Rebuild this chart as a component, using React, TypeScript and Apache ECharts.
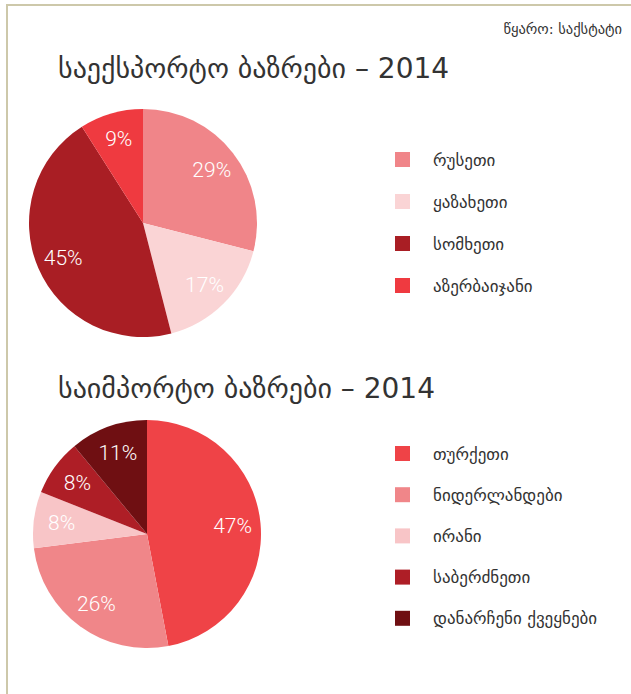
import React, { useEffect, useRef } from "react";
import * as echarts from "echarts";

const sourceText = "წყარო: საქსტატი";
const exportTitle = "საექსპორტო ბაზრები – 2014";
const importTitle = "საიმპორტო ბაზრები – 2014";

const exportNames = ["რუსეთი", "ყაზახეთი", "სომხეთი", "აზერბაიჯანი"];
const exportValues = [29, 17, 45, 9];
const exportColors = ["#f08589", "#fad4d5", "#a91e24", "#ef3a40"];

const importNames = ["თურქეთი", "ნიდერლანდები", "ირანი", "საბერძნეთი", "დანარჩენი ქვეყნები"];
const importValues = [47, 26, 8, 8, 11];
const importColors = ["#ef4347", "#f08689", "#f8c5c7", "#ae1e26", "#6f0f12"];

const FONT = "'DejaVu Sans', 'Noto Sans', sans-serif";

function buildData(names: string[], values: number[], colors: string[]) {
  return names.map((n, i) => ({ name: n, value: values[i], itemStyle: { color: colors[i] } }));
}

function buildLabelData(names: string[], values: number[]) {
  return names.map((n, i) => ({ name: n, value: values[i] }));
}

export default function App() {
  const ref = useRef<HTMLDivElement>(null);
  useEffect(() => {
    if (!ref.current) return;
    const chart = echarts.init(ref.current, undefined, { renderer: "svg" });
    const pieBase = {
      type: "pie",
      startAngle: 90,
      clockwise: true,
      silent: true,
      avoidLabelOverlap: false,
      labelLine: { show: false },
      emphasis: { disabled: true },
    };
    const labelStyle = {
      show: true,
      position: "inside",
      formatter: "{c}%",
      color: "#ffffff",
      fontSize: 21,
      fontFamily: "Roboto, 'DejaVu Sans', sans-serif",
      fontWeight: 300,
    };
    const legendText = { fontSize: 17, color: "#333333", fontFamily: FONT, lineHeight: 15, padding: [0, 0, 0, 18] };
    chart.setOption({
      animation: false,
      backgroundColor: "#ffffff",
      graphic: [
        {
          type: "polyline",
          shape: { points: [[7, 694], [7, 5], [631, 5]] },
          style: { stroke: "#cdc8aa", lineWidth: 2, fill: null },
          silent: true,
        },
        {
          type: "text",
          x: 622,
          y: 29,
          style: { text: sourceText, fontSize: 14.5, fill: "#333333", fontFamily: FONT, align: "right", verticalAlign: "middle" },
        },
        {
          type: "text",
          x: 58,
          y: 68,
          style: { text: exportTitle, fontSize: 28, fill: "#333333", fontFamily: FONT, align: "left", verticalAlign: "middle" },
        },
        {
          type: "text",
          x: 58,
          y: 388,
          style: { text: importTitle, fontSize: 28, fill: "#333333", fontFamily: FONT, align: "left", verticalAlign: "middle" },
        },
      ],
      legend: [
        {
          data: exportNames,
          orient: "vertical",
          left: 395,
          top: 151,
          padding: 0,
          icon: "rect",
          itemWidth: 15,
          itemHeight: 15,
          itemGap: 25,
          selectedMode: false,
          textStyle: legendText,
        },
        {
          data: importNames,
          orient: "vertical",
          left: 395,
          top: 445,
          padding: 0,
          icon: "rect",
          itemWidth: 15,
          itemHeight: 15,
          itemGap: 24.2,
          selectedMode: false,
          textStyle: legendText,
        },
      ],
      series: [
        {
          ...pieBase,
          name: "export",
          center: [143, 223],
          radius: [0, 114],
          label: { show: false },
          data: buildData(exportNames, exportValues, exportColors),
        },
        {
          ...pieBase,
          name: "import",
          center: [147, 534],
          radius: [0, 114],
          label: { show: false },
          data: buildData(importNames, importValues, importColors),
        },
        {
          ...pieBase,
          name: "exportLabels",
          center: [143, 223],
          radius: [54, 114],
          itemStyle: { color: "rgba(0,0,0,0)" },
          label: labelStyle,
          data: buildLabelData(exportNames, exportValues),
        },
        {
          ...pieBase,
          name: "importLabels",
          center: [147, 534],
          radius: [52, 114],
          itemStyle: { color: "rgba(0,0,0,0)" },
          label: labelStyle,
          data: buildLabelData(importNames, importValues),
        },
      ],
    });
    return () => chart.dispose();
  }, []);
  return (
    <div
      ref={ref}
      style={{ position: "fixed", left: 0, top: 0, width: 631, height: 694, background: "#fff" }}
    />
  );
}
